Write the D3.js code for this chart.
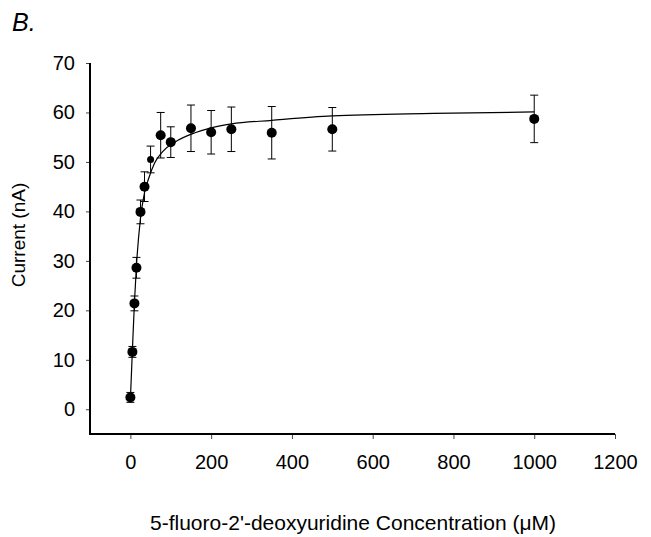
<!DOCTYPE html>
<html>
<head>
<meta charset="utf-8">
<script src="https://cdn.jsdelivr.net/npm/d3@7"></script>
<style>
  body { margin: 0; background: #fff; }
  text { font-family: Arial, "Liberation Sans", sans-serif; fill: #000; }
</style>
</head>
<body>
<div id="chart"></div>
<script>
// measured points (uM, nA) with +/- error
var conc = [0, 5, 10, 15, 25, 35, 50, 75, 100, 150, 200, 250, 350, 500, 1000];
var current = [2.4, 11.6, 21.4, 28.6, 39.9, 45.0, 50.5, 55.4, 54.0, 56.8, 56.0, 56.6, 55.9, 56.6, 58.7];
var errBar = [1.0, 1.1, 1.5, 2.1, 2.4, 3.0, 2.7, 4.6, 3.1, 4.7, 4.4, 4.5, 5.3, 4.4, 4.8];

// fitted curve
var fitConc = [0, 5, 10, 15, 25, 35, 45, 60, 80, 110, 160, 200, 250, 350, 500, 750, 1000];
var fitCurrent = [2.0, 12.0, 21.5, 29.0, 38.6, 43.8, 46.6, 49.8, 52.1, 54.0, 55.9, 56.9, 57.7, 58.4, 59.3, 59.8, 60.1];

var xTicks = [0, 200, 400, 600, 800, 1000, 1200];
var yTicks = [0, 10, 20, 30, 40, 50, 60, 70];

var svg = d3.select("#chart")
    .append("svg")
    .attr("width", 651)
    .attr("height", 537);

var margin = {top: 63, right: 36, bottom: 103, left: 90};
var width = 651 - margin.left - margin.right;
var height = 537 - margin.top - margin.bottom;

var x = d3.scaleLinear().domain([-100, 1200]).range([0, width]);
var y = d3.scaleLinear().domain([-5, 70]).range([height, 0]);

var g = svg.append("g")
    .attr("transform", "translate(" + margin.left + "," + margin.top + ")");

// x axis ticks + labels
var xAxis = g.append("g")
    .attr("transform", "translate(0," + height + ")")
    .call(d3.axisBottom(x).tickValues(xTicks).tickFormat(d3.format("d")).tickSize(5).tickPadding(16));
xAxis.select(".domain").remove();
xAxis.selectAll("line").attr("stroke", "#444");
xAxis.selectAll("text").style("font-size", "20px").attr("font-family", null);

var yAxis = g.append("g")
    .call(d3.axisLeft(y).tickValues(yTicks).tickFormat(d3.format("d")).tickSize(4).tickPadding(11));
yAxis.select(".domain").remove();
yAxis.selectAll("line").attr("stroke", "#444");
yAxis.selectAll("text").style("font-size", "20px").attr("font-family", null);

// axis lines
g.append("path")
    .attr("d", "M0,0V" + height + "H" + width)
    .attr("fill", "none")
    .attr("stroke", "#000")
    .attr("stroke-width", 2);

// fit line
var line = d3.line()
    .x(function(d, i) { return x(fitConc[i]); })
    .y(function(d) { return y(d); })
    .curve(d3.curveMonotoneX);

g.append("path")
    .datum(fitCurrent)
    .attr("d", line)
    .attr("fill", "none")
    .attr("stroke", "#000")
    .attr("stroke-width", 1.2);

var pts = conc.map(function(c, i) { return {c: c, v: current[i], e: errBar[i]}; });

// error bars
var eb = g.selectAll(".err").data(pts).enter().append("g").attr("class", "err");
eb.append("line")
    .attr("x1", function(d) { return x(d.c); })
    .attr("x2", function(d) { return x(d.c); })
    .attr("y1", function(d) { return y(d.v - d.e); })
    .attr("y2", function(d) { return y(d.v + d.e); })
    .attr("stroke", "#000");
[-1, 1].forEach(function(s) {
  eb.append("line")
      .attr("x1", function(d) { return x(d.c) - 4; })
      .attr("x2", function(d) { return x(d.c) + 4; })
      .attr("y1", function(d) { return y(d.v + s * d.e); })
      .attr("y2", function(d) { return y(d.v + s * d.e); })
      .attr("stroke", "#000");
});

g.selectAll(".dot").data(pts).enter().append("circle")
    .attr("class", "dot")
    .attr("cx", function(d) { return x(d.c); })
    .attr("cy", function(d) { return y(d.v); })
    .attr("r", function(d) { return d.c === 50 ? 3.5 : 5; })
    .attr("fill", "#000");

// titles
svg.append("text")
    .attr("x", 12)
    .attr("y", 31)
    .style("font-size", "25px")
    .style("font-style", "italic")
    .text("B.");

svg.append("text")
    .attr("transform", "translate(25,235) rotate(-90)")
    .attr("text-anchor", "middle")
    .style("font-size", "19px")
    .text("Current (nA)");

svg.append("text")
    .attr("x", 353)
    .attr("y", 530)
    .attr("text-anchor", "middle")
    .style("font-size", "21px")
    .text("5-fluoro-2'-deoxyuridine Concentration (μM)");
</script>
</body>
</html>
